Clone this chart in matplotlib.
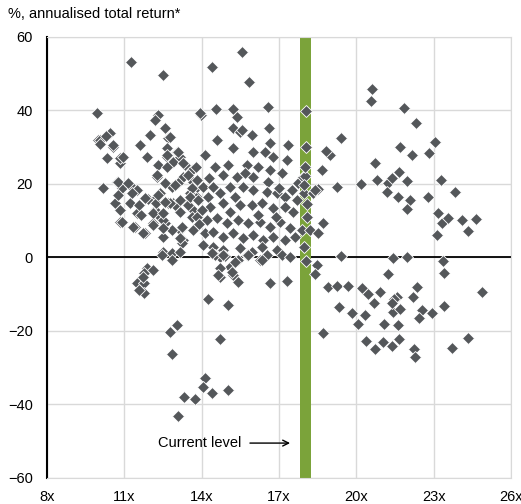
import matplotlib
matplotlib.use("Agg")
import matplotlib.pyplot as plt

plt.rcParams["font.family"] = ["Liberation Sans", "DejaVu Sans"]

# forward P/E (x) and subsequent annualised total return, % (y)
low_pe = [9.94, 9.98, 10.44, 10.56, 10.33, 10.83, 10.83, 10.17, 10.72, 10.91,
          11.22, 11.49, 10.64, 10.83, 11.22, 11.49, 10.83, 11.41, 11.80, 12.11,
          11.92, 12.19, 12.38, 12.27, 12.58, 12.50, 12.50, 12.85, 13.16, 13.28,
          11.26, 12.50, 12.31, 12.19, 12.00, 11.61, 11.88, 12.58, 12.69, 12.65,
          12.65, 12.31, 13.04, 12.89, 13.16, 13.35, 13.28, 13.62, 13.66, 13.08,
          12.85, 12.58, 12.27, 12.38, 12.89, 13.16, 13.43, 13.66, 13.55, 13.82,
          13.82, 12.85, 12.50, 11.64, 11.57, 12.23, 12.69, 12.11, 12.50, 12.97,
          13.47, 13.62, 12.77, 12.11, 12.50, 11.72, 11.34, 10.91, 13.24, 13.16,
          13.24, 12.77, 10.06, 10.56, 10.95, 10.75, 11.14, 12.65, 13.08, 13.28,
          12.65, 12.27, 12.97, 13.47, 13.62, 10.75, 11.30, 11.80, 12.31, 12.58,
          13.16, 10.05, 10.30]
low_ret = [39.3, 32.0, 33.8, 30.2, 27.1, 25.7, 27.0, 19.0, 20.5, 19.0,
           19.7, 18.4, 14.8, 13.0, 14.8, 12.0, 9.7, 8.3, 6.7, 9.4,
           16.0, 13.0, 11.0, 16.5, 9.4, 5.6, 1.5, 1.2, 7.5, 4.8,
           53.2, 49.7, 38.8, 37.4, 33.3, 30.6, 27.3, 35.2, 32.5, 29.8,
           27.3, 25.2, 28.7, 26.0, 27.3, 25.2, 21.9, 23.8, 20.5, 20.3,
           19.2, 20.3, 21.9, 17.6, 14.8, 12.4, 14.8, 12.9, 17.6, 16.5,
           19.2, 7.5, 10.2, 11.6, 14.3, 14.8, 14.8, 12.1, 12.1, 14.3,
           14.3, 11.0, 14.8, 8.8, 8.0, 6.7, 8.3, 9.7, 3.9, 5.3,
           8.3, 32.8, 32.0, 30.6, 27.3, 20.5, 20.3, 27.9, 28.7, 25.7,
           24.6, 22.4, 19.7, 22.4, 18.9, 17.0, 17.6, 16.2, 17.0, 15.1,
           15.6, 31.0, 33.0]

low_neg_pe = [11.88, 11.76, 11.49, 11.76, 11.76, 12.11, 11.72, 11.57, 12.46, 12.85,
              13.16, 14.25, 15.02, 13.04, 12.77, 14.71, 12.85, 14.13, 14.05, 14.40,
              15.02, 13.74, 13.31, 13.08]
low_neg_ret = [-2.9, -4.2, -7.0, -7.0, -9.7, -3.4, -5.2, -8.8, 0.7, -0.7,
               1.5, -11.3, -12.9, -18.4, -20.3, -22.2, -26.3, -32.8, -35.2, -36.9,
               -36.0, -38.5, -38.0, -43.1]

mid_pe = [15.56, 14.40, 15.84, 13.97, 14.56, 15.22, 15.37, 16.57, 15.22, 15.49,
          15.95, 16.61, 14.59, 15.22, 15.99, 16.65, 17.35, 16.77, 16.46, 17.31,
          14.13, 13.78, 14.52, 15.02, 14.83, 15.37, 15.76, 15.99, 16.65, 16.57,
          17.12, 17.74, 17.93, 13.82, 14.05, 14.44, 14.71, 15.10, 15.60, 15.99,
          16.53, 16.92, 17.23, 17.70, 17.98, 13.55, 13.86, 14.25, 14.32, 14.83,
          15.10, 15.49, 15.95, 16.34, 16.77, 17.23, 17.54, 13.82, 14.21, 14.59,
          14.98, 15.41, 15.80, 16.26, 16.65, 17.04, 17.43, 17.89, 13.66, 14.13,
          14.44, 14.83, 15.22, 15.60, 15.99, 16.38, 16.77, 17.23, 17.62, 14.44,
          14.83, 15.49, 15.95, 16.34, 16.92, 14.71, 16.53, 13.93, 15.56, 14.28,
          15.68, 16.18, 17.00, 16.20, 15.30, 14.00, 16.90, 17.50, 13.90,
          14.52, 14.90, 14.71, 15.22, 15.41, 15.10, 15.41, 15.76, 16.26, 16.65,
          17.31, 17.12, 17.43, 14.71, 14.63, 15.18, 15.29, 15.80, 16.34, 14.83,
          14.40, 14.05]
mid_ret = [55.9, 51.8, 47.8, 38.8, 40.4, 40.4, 38.2, 40.9, 35.2, 34.1,
           33.3, 35.2, 32.0, 29.8, 28.7, 31.2, 30.6, 27.3, 28.7, 26.5,
           27.9, 24.6, 24.6, 25.2, 22.4, 21.9, 25.2, 21.9, 23.8, 20.5,
           23.0, 20.3, 21.9, 21.1, 19.2, 19.2, 17.5, 19.2, 19.2, 18.4,
           17.8, 17.5, 16.5, 15.6, 17.5, 16.5, 15.6, 16.5, 13.7, 14.8,
           12.4, 14.3, 14.3, 14.8, 13.5, 13.7, 12.4, 11.0, 10.2, 10.7,
           9.4, 10.2, 9.4, 9.7, 8.3, 9.7, 8.0, 7.5, 7.5, 6.7,
           6.9, 5.6, 6.7, 5.3, 6.1, 4.8, 5.6, 4.8, 5.6, 2.9,
           2.0, 2.6, 1.5, 2.9, 2.0, 0.1, 0.7, 39.3, 34.7, 21.5,
           23.0, 24.5, 19.0, 11.5, 16.5, 13.0, 11.0, 18.5, 9.0,
           0.7, 0.4, -5.3, -4.8, -6.7, -2.6, -0.7, 0.7, -0.7, -7.0,
           -6.4, 0.7, 0.1, -2.9, -4.8, -3.9, -1.2, 0.7, -0.7, 0.7,
           1.2, 3.4]

current_pe = [18.05, 18.05, 18.00, 17.96, 18.33, 18.52, 18.09, 18.20, 18.52, 18.71,
              17.96, 18.05, 18.10, 18.00]
current_ret = [39.8, 30.0, 22.1, 19.7, 17.5, 18.6, 11.0, 7.5, 6.7, 9.4,
               2.9, -1.0, 14.5, 24.5]

high_pe = [20.61, 20.57, 21.85, 22.32, 19.40, 21.69, 22.16, 23.05, 22.82, 18.98,
           18.82, 20.72, 18.67, 21.65, 20.80, 21.96, 20.18, 21.23, 21.38, 23.28,
           19.25, 18.40, 21.19, 21.62, 22.08, 21.96, 22.78, 23.83, 23.17, 23.32,
           23.55, 23.13, 24.10, 24.33, 24.64,
           19.40, 21.42, 21.96, 23.36, 23.40, 18.47, 18.40, 21.23, 18.90, 19.25,
           19.68, 20.22, 20.45, 20.92, 21.58, 21.46, 22.35, 22.20, 24.87, 19.33,
           19.83, 20.33, 20.06, 20.68, 21.42, 21.69, 21.38, 22.55, 22.43, 22.93,
           23.40, 21.07, 21.62, 18.71, 20.37, 20.72, 21.03, 21.38, 21.65, 22.24,
           22.28, 23.71, 24.33]
high_ret = [45.8, 42.6, 40.7, 36.6, 32.5, 30.0, 27.9, 31.4, 28.4, 27.9,
            29.0, 25.7, 23.8, 23.3, 21.1, 20.8, 20.0, 20.3, 21.6, 21.1,
            19.2, 18.4, 17.8, 16.5, 15.6, 13.2, 16.5, 17.8, 12.1, 9.4,
            10.7, 6.1, 10.2, 7.2, 10.5,
            0.4, -0.1, 0.1, -1.0, -4.2, -2.0, -4.5, -4.5, -8.0, -7.8,
            -7.8, -8.3, -10.0, -9.4, -10.7, -11.3, -8.0, -10.7, -9.4, -13.5,
            -15.1, -15.6, -18.1, -12.4, -14.8, -14.0, -12.4, -14.3, -16.5, -15.1,
            -13.2, -18.1, -18.4, -20.5, -22.7, -24.9, -23.0, -24.1, -22.2, -24.9,
            -27.1, -24.6, -21.9]

current_level = 18.03
x_ticks = [8, 11, 14, 17, 20, 23, 26]
y_ticks = [-60, -40, -20, 0, 20, 40, 60]

pe = low_pe + low_neg_pe + mid_pe + current_pe + high_pe
ret = low_ret + low_neg_ret + mid_ret + current_ret + high_ret

fig = plt.figure(figsize=(5.21, 5.04), dpi=100)
ax = fig.add_axes([0.0902, 0.0516, 0.8906, 0.875])

ax.set_xlim(8, 26)
ax.set_ylim(-60, 60)
ax.set_xticks(x_ticks)
ax.set_xticklabels([f"{t}x" for t in x_ticks])
ax.set_yticks(y_ticks)
ax.grid(True, color="#D9D9D9", lw=1, zorder=0)
ax.set_axisbelow(True)
ax.tick_params(length=0, labelsize=10.5, colors="black")
ax.tick_params(axis="y", pad=10)
ax.tick_params(axis="x", pad=9)

for side in ["top", "right", "bottom"]:
    ax.spines[side].set_color("#D9D9D9")
ax.spines["left"].set_color("black")
ax.spines["left"].set_linewidth(1.5)

ax.axhline(0, color="black", lw=1.3, zorder=1)
ax.axvspan(current_level - 0.2, current_level + 0.2, color="#7BA33A", lw=0, zorder=2)

ax.plot(pe, ret, ls="none", marker="D", markersize=6.3, color="#54575A",
        markeredgecolor="white", markeredgewidth=0.6, zorder=3)

ax.annotate("Current level", xy=(17.43, -50.5), xytext=(15.55, -50.5),
            ha="right", va="center", fontsize=10.5,
            arrowprops=dict(arrowstyle="->", color="black", lw=1, shrinkA=4, shrinkB=0))

fig.text(0.015, 0.972, "%, annualised total return*", fontsize=10.5, va="center")

fig.savefig("out.png", dpi=100)
